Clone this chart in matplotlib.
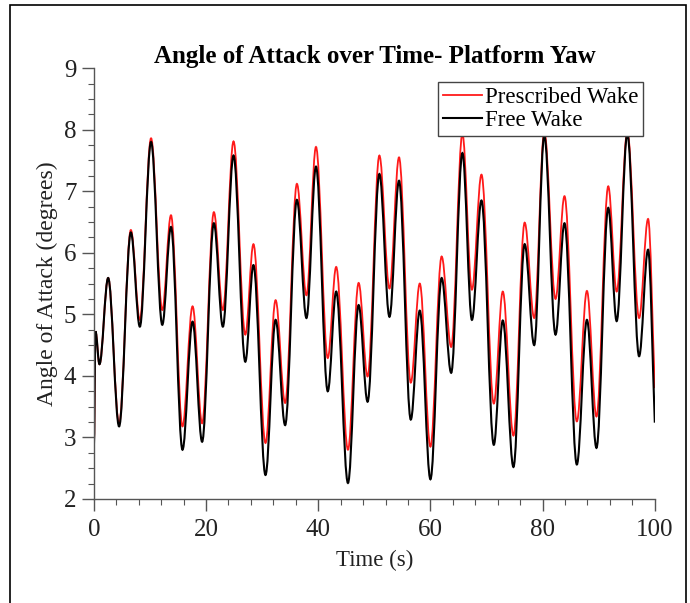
import matplotlib.pyplot as plt
from matplotlib.path import Path
from matplotlib.patches import PathPatch, Rectangle
from matplotlib.ticker import MultipleLocator

# turning points (time in s, angle in degrees)
time_s = [0.0, 0.3, 1.0, 2.55, 4.5, 6.6, 8.2, 10.2, 12.2, 13.75,
          15.8, 17.6, 19.3, 21.4, 23.0, 24.9, 27.0, 28.45, 30.6, 32.4,
          34.1, 36.2, 37.9, 39.6, 41.7, 43.2, 45.3, 47.2, 48.8, 50.9,
          52.7, 54.4, 56.5, 58.1, 60.0, 62.0, 63.7, 65.7, 67.4, 69.1,
          71.3, 72.9, 74.8, 76.8, 78.5, 80.3, 82.3, 83.9, 86.1, 87.9,
          89.6, 91.7, 93.2, 95.1, 97.2, 98.8, 100.0]

prescribed_wake = [2.83, 4.72, 4.19, 5.59, 3.22, 6.37, 4.91, 7.86, 5.07, 6.61,
                   3.18, 5.13, 3.23, 6.66, 5.07, 7.81, 4.67, 6.14, 2.91, 5.23,
                   3.56, 7.12, 5.31, 7.72, 4.29, 5.77, 2.80, 5.51, 3.99, 7.58,
                   5.42, 7.55, 3.89, 5.50, 2.85, 5.94, 4.47, 7.93, 5.40, 7.27,
                   3.55, 5.37, 3.03, 6.49, 4.94, 7.97, 5.25, 6.92, 3.26, 5.38,
                   3.34, 7.08, 5.37, 7.97, 4.94, 6.55, 3.80]

free_wake = [2.83, 4.72, 4.19, 5.59, 3.18, 6.33, 4.80, 7.80, 4.83, 6.42,
             2.80, 4.88, 2.93, 6.48, 4.80, 7.58, 4.23, 5.80, 2.39, 4.91,
             3.20, 6.86, 4.94, 7.40, 3.75, 5.37, 2.26, 5.15, 3.58, 7.28,
             4.96, 7.17, 3.29, 5.06, 2.32, 5.59, 4.05, 7.62, 4.91, 6.85,
             2.88, 4.90, 2.52, 6.14, 4.50, 7.90, 4.67, 6.48, 2.56, 4.91,
             2.83, 6.73, 4.89, 7.93, 4.32, 6.05, 3.24]


def smooth_path(t, y, k=0.36):
    # cubic segments with flat tangents at each turning point
    verts = [(t[0], y[0])]
    codes = [Path.MOVETO]
    for i in range(len(t) - 1):
        dt = t[i + 1] - t[i]
        c1 = (t[i] + k * dt, y[i])
        c2 = (t[i + 1] - k * dt, y[i + 1])
        if i == len(t) - 2:
            c2 = (t[i + 1] - k * dt, y[i + 1] + k * (y[i] - y[i + 1]))
        verts += [c1, c2, (t[i + 1], y[i + 1])]
        codes += [Path.CURVE4] * 3
    return Path(verts, codes)


plt.rcParams['font.family'] = ['Liberation Serif', 'DejaVu Serif']

fig = plt.figure(figsize=(6.9, 6.03), dpi=100)
ax = fig.add_axes([0.136, 0.1725, 0.813, 0.7145])

ax.add_patch(PathPatch(smooth_path(time_s, prescribed_wake), facecolor='none',
                       edgecolor='#ff1a1a', lw=1.3, transform=ax.transData))
ax.add_patch(PathPatch(smooth_path(time_s, free_wake), facecolor='none',
                       edgecolor='black', lw=1.5, transform=ax.transData))

# legend proxies
ax.plot([], [], color='#ff1a1a', lw=1.3, label='Prescribed Wake')
ax.plot([], [], color='black', lw=1.5, label='Free Wake')

ax.set_xlim(0, 100)
ax.set_ylim(2, 9)
ax.xaxis.set_major_locator(MultipleLocator(20))
ax.xaxis.set_minor_locator(MultipleLocator(4))
ax.yaxis.set_major_locator(MultipleLocator(1))
ax.yaxis.set_minor_locator(MultipleLocator(0.25))

for s in ['top', 'right']:
    ax.spines[s].set_visible(False)
for s in ['left', 'bottom']:
    ax.spines[s].set_color('#555555')
    ax.spines[s].set_linewidth(1.0)
ax.tick_params(which='major', direction='out', length=8.5, width=1.0,
               color='#555555', labelsize=18, labelcolor='#222222', pad=4)
ax.tick_params(axis='x', which='major', pad=6)
ax.tick_params(which='minor', direction='out', length=4, width=0.8,
               color='#555555')

ax.set_title('Angle of Attack over Time- Platform Yaw', fontsize=18,
             fontweight='bold', pad=4)
ax.set_xlabel('Time (s)', fontsize=16.5, color='#222222', labelpad=6)
ax.set_ylabel('Angle of Attack (degrees)', fontsize=17, color='#222222',
              labelpad=4)

leg = ax.legend(loc='upper right', bbox_to_anchor=(0.979, 0.9675), fontsize=16.5,
                frameon=True, fancybox=False, framealpha=1, edgecolor='#444444',
                handlelength=1.7, handletextpad=0.15, borderpad=0.2,
                labelspacing=0.1, borderaxespad=0)
leg.get_frame().set_linewidth(1.0)
leg.set_zorder(5)

# frame round the whole picture
fig.patches.append(Rectangle((10 / 690, -0.05), 676 / 690, 1.05 - 5 / 603,
                             transform=fig.transFigure, fill=False,
                             edgecolor='black', lw=1.2))

fig.savefig('out.png', dpi=100)
